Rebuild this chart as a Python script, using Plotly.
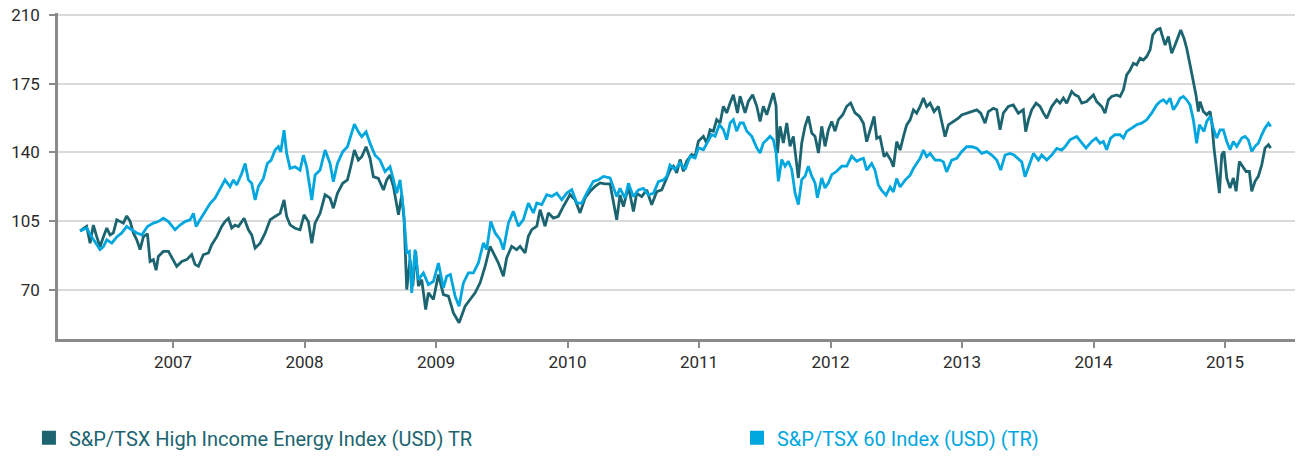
import plotly.graph_objects as go

# ---------------- data (decimal year, index value) ----------------
hie_t = [2006.293, 2006.343, 2006.369, 2006.394, 2006.420, 2006.445, 2006.470, 2006.496, 2006.521, 2006.546,
         2006.572, 2006.597, 2006.622, 2006.648, 2006.673, 2006.698, 2006.724, 2006.749, 2006.774, 2006.805,
         2006.825, 2006.850, 2006.871, 2006.888, 2006.926, 2006.965, 2007.003, 2007.028, 2007.066, 2007.104,
         2007.142, 2007.167, 2007.193, 2007.231, 2007.269, 2007.294, 2007.332, 2007.370, 2007.395, 2007.421,
         2007.446, 2007.471, 2007.497, 2007.540, 2007.573, 2007.598, 2007.624, 2007.662, 2007.700, 2007.738,
         2007.776, 2007.814, 2007.844, 2007.864, 2007.890, 2007.928, 2007.966, 2007.996, 2008.029, 2008.055,
         2008.080, 2008.118, 2008.156, 2008.194, 2008.219, 2008.250, 2008.290, 2008.326, 2008.351, 2008.379,
         2008.409, 2008.435, 2008.468, 2008.498, 2008.523, 2008.561, 2008.600, 2008.625, 2008.650, 2008.676,
         2008.714, 2008.739, 2008.757, 2008.777, 2008.802, 2008.823, 2008.845, 2008.866, 2008.891, 2008.921,
         2008.942, 2008.980, 2009.018, 2009.056, 2009.094, 2009.132, 2009.175, 2009.221, 2009.259, 2009.297,
         2009.335, 2009.373, 2009.411, 2009.436, 2009.474, 2009.512, 2009.537, 2009.575, 2009.613, 2009.639,
         2009.677, 2009.702, 2009.728, 2009.766, 2009.791, 2009.829, 2009.854, 2009.892, 2009.930, 2009.968,
         2010.019, 2010.057, 2010.095, 2010.133, 2010.171, 2010.209, 2010.247, 2010.285, 2010.323, 2010.374,
         2010.399, 2010.425, 2010.463, 2010.501, 2010.526, 2010.564, 2010.602, 2010.640, 2010.678, 2010.716,
         2010.741, 2010.779, 2010.805, 2010.830, 2010.856, 2010.881, 2010.906, 2010.944, 2010.970, 2010.995,
         2011.033, 2011.058, 2011.084, 2011.109, 2011.134, 2011.160, 2011.185, 2011.210, 2011.236, 2011.261,
         2011.292, 2011.312, 2011.350, 2011.375, 2011.408, 2011.439, 2011.464, 2011.489, 2011.515, 2011.540,
         2011.565, 2011.586, 2011.596, 2011.616, 2011.641, 2011.667, 2011.692, 2011.717, 2011.743, 2011.755,
         2011.781, 2011.806, 2011.831, 2011.857, 2011.882, 2011.908, 2011.933, 2011.958, 2011.984, 2012.009,
         2012.034, 2012.060, 2012.093, 2012.123, 2012.153, 2012.186, 2012.219, 2012.250, 2012.275, 2012.300,
         2012.331, 2012.351, 2012.376, 2012.407, 2012.427, 2012.458, 2012.478, 2012.503, 2012.529, 2012.554,
         2012.579, 2012.605, 2012.630, 2012.655, 2012.681, 2012.706, 2012.731, 2012.757, 2012.787, 2012.820,
         2012.845, 2012.871, 2012.896, 2012.934, 2012.972, 2012.997, 2013.035, 2013.074, 2013.112, 2013.142,
         2013.175, 2013.200, 2013.238, 2013.264, 2013.289, 2013.314, 2013.352, 2013.390, 2013.428, 2013.466,
         2013.484, 2013.505, 2013.530, 2013.563, 2013.593, 2013.619, 2013.644, 2013.682, 2013.720, 2013.745,
         2013.771, 2013.796, 2013.834, 2013.859, 2013.885, 2013.910, 2013.948, 2013.973, 2013.999, 2014.024,
         2014.062, 2014.087, 2014.113, 2014.138, 2014.176, 2014.202, 2014.227, 2014.252, 2014.278, 2014.303,
         2014.328, 2014.354, 2014.379, 2014.404, 2014.430, 2014.450, 2014.480, 2014.506, 2014.526, 2014.544,
         2014.569, 2014.594, 2014.620, 2014.645, 2014.663, 2014.688, 2014.708, 2014.734, 2014.759, 2014.779,
         2014.797, 2014.810, 2014.835, 2014.861, 2014.886, 2014.899, 2014.916, 2014.937, 2014.957, 2014.975,
         2014.992, 2015.013, 2015.038, 2015.063, 2015.084, 2015.109, 2015.134, 2015.160, 2015.185, 2015.203,
         2015.228, 2015.253, 2015.279, 2015.304, 2015.330, 2015.347]
hie_v = [100.0, 102.3, 93.8, 103.0, 97.0, 92.0, 97.0, 101.5, 98.0, 99.0,
         105.7, 105.0, 104.0, 107.7, 105.0, 99.0, 95.5, 90.5, 97.0, 98.6,
         84.5, 85.4, 80.0, 87.0, 89.6, 89.6, 84.5, 82.0, 84.5, 85.4,
         88.0, 83.0, 82.0, 88.0, 88.8, 93.0, 97.0, 102.3, 104.8, 106.5,
         101.5, 103.0, 102.3, 106.5, 100.6, 98.0, 91.3, 93.8, 98.9, 105.7,
         107.4, 109.0, 115.8, 107.4, 103.1, 101.4, 100.6, 108.2, 104.8, 93.8,
         104.0, 109.0, 118.4, 116.7, 111.6, 119.2, 124.3, 126.0, 132.7, 141.2,
         136.1, 137.8, 142.9, 137.0, 127.7, 126.8, 120.9, 126.0, 128.5, 122.6,
         108.2, 118.4, 105.7, 70.2, 85.4, 71.9, 89.6, 71.9, 75.2, 60.0,
         68.5, 65.1, 77.8, 67.6, 66.8, 58.3, 53.3, 61.7, 65.1, 68.5,
         73.6, 82.0, 92.2, 88.8, 83.7, 77.0, 86.3, 92.2, 90.5, 92.2,
         88.8, 97.3, 100.7, 102.4, 110.8, 102.4, 109.2, 106.6, 107.5, 112.5,
         118.5, 115.9, 109.2, 116.8, 120.2, 122.7, 124.5, 124.0, 124.0, 105.7,
         118.4, 112.4, 122.6, 109.9, 119.2, 117.5, 120.9, 113.3, 120.0, 120.9,
         125.1, 131.0, 133.0, 129.6, 136.4, 130.4, 135.5, 138.9, 138.1, 145.7,
         148.2, 144.8, 151.6, 150.8, 156.7, 155.0, 163.5, 160.1, 165.2, 169.4,
         160.1, 168.6, 160.1, 166.0, 169.4, 163.5, 155.8, 163.5, 159.2, 165.2,
         170.3, 163.5, 139.7, 153.3, 144.8, 155.0, 143.1, 148.2, 134.7, 127.0,
         144.8, 153.3, 158.4, 149.9, 148.2, 139.7, 153.3, 143.1, 151.6, 155.8,
         150.8, 156.7, 159.2, 163.5, 165.2, 160.1, 158.4, 154.9, 145.5, 151.5,
         158.3, 147.2, 148.0, 137.8, 139.5, 136.1, 132.7, 145.5, 141.2, 148.0,
         154.0, 156.6, 161.7, 160.0, 163.4, 167.7, 163.4, 165.1, 160.8, 163.4,
         156.6, 148.0, 154.0, 155.7, 157.4, 159.1, 160.0, 160.8, 161.7, 160.0,
         154.9, 160.8, 162.5, 161.7, 151.5, 160.0, 163.4, 164.2, 160.0, 161.7,
         150.6, 156.6, 161.7, 165.1, 163.4, 160.0, 157.4, 163.4, 166.8, 165.1,
         167.7, 165.1, 171.0, 169.3, 168.5, 165.1, 165.9, 167.6, 169.3, 165.9,
         163.4, 160.0, 166.8, 168.5, 169.3, 168.5, 171.9, 179.5, 182.0, 185.4,
         184.6, 188.0, 187.1, 188.8, 192.2, 199.8, 202.4, 203.2, 198.1, 194.7,
         199.0, 190.5, 194.7, 199.0, 202.4, 198.1, 193.1, 184.6, 176.1, 169.3,
         160.8, 165.9, 160.8, 159.2, 160.8, 155.8, 142.2, 128.6, 119.3, 138.8,
         140.5, 127.0, 121.9, 127.0, 120.2, 135.4, 132.9, 130.3, 130.3, 120.2,
         125.3, 127.8, 133.7, 142.2, 143.9, 142.2]

tsx_t = [2006.293, 2006.343, 2006.381, 2006.420, 2006.445, 2006.470, 2006.496, 2006.534, 2006.572, 2006.610,
         2006.648, 2006.686, 2006.724, 2006.762, 2006.805, 2006.850, 2006.888, 2006.926, 2006.965, 2007.015,
         2007.053, 2007.091, 2007.129, 2007.155, 2007.175, 2007.205, 2007.243, 2007.281, 2007.319, 2007.357,
         2007.395, 2007.433, 2007.459, 2007.484, 2007.522, 2007.548, 2007.573, 2007.598, 2007.624, 2007.649,
         2007.687, 2007.717, 2007.745, 2007.776, 2007.801, 2007.819, 2007.844, 2007.864, 2007.890, 2007.928,
         2007.966, 2007.991, 2008.016, 2008.055, 2008.080, 2008.118, 2008.156, 2008.194, 2008.219, 2008.250,
         2008.290, 2008.326, 2008.351, 2008.379, 2008.409, 2008.435, 2008.468, 2008.498, 2008.536, 2008.574,
         2008.612, 2008.650, 2008.676, 2008.701, 2008.726, 2008.752, 2008.777, 2008.797, 2008.815, 2008.840,
         2008.866, 2008.904, 2008.942, 2008.980, 2009.018, 2009.056, 2009.081, 2009.109, 2009.145, 2009.175,
         2009.208, 2009.246, 2009.284, 2009.322, 2009.360, 2009.385, 2009.416, 2009.449, 2009.487, 2009.512,
         2009.550, 2009.588, 2009.626, 2009.664, 2009.702, 2009.740, 2009.766, 2009.804, 2009.842, 2009.880,
         2009.918, 2009.956, 2009.994, 2010.032, 2010.070, 2010.108, 2010.146, 2010.196, 2010.235, 2010.273,
         2010.323, 2010.374, 2010.399, 2010.437, 2010.463, 2010.501, 2010.539, 2010.577, 2010.615, 2010.653,
         2010.691, 2010.729, 2010.754, 2010.779, 2010.817, 2010.856, 2010.894, 2010.932, 2010.970, 2010.995,
         2011.033, 2011.071, 2011.096, 2011.122, 2011.155, 2011.185, 2011.210, 2011.236, 2011.261, 2011.286,
         2011.312, 2011.337, 2011.363, 2011.401, 2011.439, 2011.464, 2011.489, 2011.515, 2011.540, 2011.565,
         2011.586, 2011.603, 2011.629, 2011.654, 2011.679, 2011.705, 2011.730, 2011.755, 2011.781, 2011.806,
         2011.831, 2011.857, 2011.882, 2011.900, 2011.933, 2011.958, 2011.984, 2012.009, 2012.047, 2012.085,
         2012.123, 2012.161, 2012.199, 2012.224, 2012.250, 2012.275, 2012.313, 2012.338, 2012.364, 2012.389,
         2012.422, 2012.453, 2012.478, 2012.503, 2012.529, 2012.567, 2012.605, 2012.630, 2012.655, 2012.681,
         2012.706, 2012.731, 2012.757, 2012.795, 2012.833, 2012.858, 2012.883, 2012.921, 2012.960, 2012.997,
         2013.035, 2013.074, 2013.112, 2013.150, 2013.188, 2013.226, 2013.264, 2013.294, 2013.327, 2013.365,
         2013.395, 2013.428, 2013.454, 2013.479, 2013.505, 2013.543, 2013.581, 2013.606, 2013.644, 2013.682,
         2013.720, 2013.758, 2013.783, 2013.821, 2013.872, 2013.910, 2013.943, 2013.986, 2014.019, 2014.049,
         2014.075, 2014.100, 2014.130, 2014.163, 2014.202, 2014.227, 2014.252, 2014.290, 2014.328, 2014.366,
         2014.404, 2014.442, 2014.480, 2014.506, 2014.531, 2014.556, 2014.582, 2014.607, 2014.633, 2014.658,
         2014.683, 2014.708, 2014.734, 2014.759, 2014.784, 2014.805, 2014.823, 2014.840, 2014.861, 2014.886,
         2014.911, 2014.937, 2014.962, 2014.987, 2015.013, 2015.038, 2015.063, 2015.089, 2015.127, 2015.152,
         2015.177, 2015.203, 2015.228, 2015.253, 2015.279, 2015.304, 2015.330, 2015.347]
tsx_v = [100.0, 101.5, 97.0, 93.0, 90.5, 92.0, 95.5, 93.8, 97.0, 99.0,
         102.3, 100.6, 99.0, 98.0, 102.3, 104.0, 104.8, 106.5, 104.8, 100.6,
         103.0, 104.8, 105.7, 109.0, 102.3, 105.7, 110.0, 114.0, 116.7, 121.0,
         126.0, 122.6, 126.0, 123.4, 129.3, 134.4, 126.0, 124.3, 115.8, 122.6,
         126.8, 134.4, 136.0, 141.2, 142.9, 140.3, 151.3, 139.5, 131.9, 132.7,
         131.0, 138.6, 132.7, 115.8, 128.5, 131.0, 141.2, 134.4, 125.1, 134.4,
         140.3, 142.9, 148.0, 154.4, 150.5, 148.0, 150.5, 144.6, 138.6, 136.1,
         130.2, 132.7, 126.0, 119.2, 126.0, 110.7, 88.8, 89.6, 68.5, 90.5,
         75.2, 78.6, 72.7, 74.4, 83.7, 71.0, 76.9, 77.8, 66.8, 61.7,
         73.6, 78.7, 78.7, 83.7, 93.9, 90.5, 104.9, 99.0, 95.6, 90.5,
         104.0, 110.0, 102.4, 105.8, 114.2, 109.2, 114.2, 113.4, 118.5, 117.6,
         119.3, 115.9, 119.3, 121.0, 114.2, 114.2, 119.3, 125.3, 126.1, 127.8,
         127.0, 117.5, 121.7, 116.7, 124.3, 117.5, 120.9, 121.7, 118.4, 119.2,
         125.1, 126.0, 127.7, 133.6, 131.3, 134.7, 131.3, 138.1, 137.2, 142.3,
         141.4, 146.5, 149.1, 148.2, 154.2, 151.6, 146.5, 155.0, 156.7, 150.8,
         155.0, 155.0, 150.8, 148.2, 142.3, 139.7, 144.8, 146.5, 148.2, 146.5,
         139.7, 125.3, 136.4, 133.0, 135.5, 131.3, 119.4, 113.4, 126.2, 127.9,
         133.0, 127.9, 124.5, 116.9, 127.0, 121.9, 124.5, 128.7, 130.4, 133.0,
         133.0, 138.1, 135.5, 136.4, 137.0, 131.0, 134.4, 131.0, 123.3, 120.7,
         118.2, 122.4, 119.9, 126.7, 122.4, 125.9, 128.4, 131.8, 134.4, 137.0,
         141.2, 137.8, 139.5, 136.1, 136.1, 135.2, 130.1, 136.1, 137.0, 140.4,
         142.9, 142.9, 142.1, 139.5, 140.4, 138.7, 136.1, 131.0, 138.7, 139.5,
         138.7, 137.0, 135.2, 127.6, 132.7, 139.5, 136.1, 138.7, 136.1, 138.7,
         142.1, 141.2, 142.9, 146.4, 148.1, 144.7, 142.2, 145.6, 147.3, 144.7,
         145.6, 141.4, 147.3, 149.0, 149.0, 147.3, 150.7, 152.4, 154.1, 154.9,
         156.6, 160.0, 164.2, 165.9, 166.8, 165.1, 167.6, 161.7, 164.2, 167.6,
         168.5, 166.8, 164.2, 156.6, 144.7, 154.1, 152.4, 150.7, 155.8, 158.3,
         152.4, 147.3, 151.5, 151.5, 145.6, 141.4, 145.6, 143.1, 147.3, 148.1,
         146.4, 140.5, 143.1, 144.7, 149.0, 152.4, 154.9, 153.2]

YEARS = [2007, 2008, 2009, 2010, 2011, 2012, 2013, 2014, 2015]
YEAR_LABELS = [str(y) for y in YEARS]
Y_TICKS = [70, 105, 140, 175, 210]

NAME_HIE = "S&P/TSX High Income Energy Index (USD) TR"
NAME_TSX = "S&P/TSX 60 Index (USD) (TR)"
C_HIE = "#1c6570"
C_TSX = "#00a6de"

fig = go.Figure()
fig.add_trace(go.Scatter(x=hie_t, y=hie_v, mode="lines", line=dict(color=C_HIE, width=2.8),
                         showlegend=False, name=NAME_HIE))
fig.add_trace(go.Scatter(x=tsx_t, y=tsx_v, mode="lines", line=dict(color=C_TSX, width=2.8),
                         showlegend=False, name=NAME_TSX))
# legend entries with square swatches, each in its own legend box
for name, col, lg in [(NAME_HIE, C_HIE, "legend"), (NAME_TSX, C_TSX, "legend2")]:
    fig.add_trace(go.Scatter(x=[None], y=[None], mode="markers",
                             marker=dict(symbol="square", size=14, color=col),
                             name=f'<span style="color:{col}">{name}</span>',
                             showlegend=True, legend=lg))

leg_common = dict(orientation="h", xanchor="left", yanchor="middle", y=-0.303,
                  font=dict(size=20), bgcolor="rgba(0,0,0,0)", itemwidth=30)

fig.update_layout(
    width=1297, height=456,
    margin=dict(l=58, r=2, t=13, b=117, autoexpand=False),
    paper_bgcolor="white", plot_bgcolor="white",
    font=dict(family="Roboto, Arial, sans-serif", size=17, color="#2b2b2b"),
    legend=dict(x=-0.0235, **leg_common),
    legend2=dict(x=0.5489, **leg_common),
    xaxis=dict(range=[2006.125, 2015.532], tickmode="array", tickvals=YEARS, ticktext=YEAR_LABELS,
               showgrid=False, zeroline=False, showline=True, linecolor="#8a8a8a", linewidth=2.5,
               ticks="outside", ticklen=6, tickwidth=2, tickcolor="#8a8a8a", automargin=False,
               ticklabeloverflow="allow", tickfont=dict(size=17, color="#2b2b2b")),
    yaxis=dict(range=[45, 211], tickmode="array", tickvals=Y_TICKS,
               showgrid=True, gridcolor="#dadada", gridwidth=1.5, zeroline=False,
               showline=True, linecolor="#8a8a8a", linewidth=2.5, automargin=False,
               ticks="outside", ticklen=6, tickwidth=2, tickcolor="#8a8a8a",
               ticklabelstandoff=6, ticklabeloverflow="allow",
               tickfont=dict(size=17, color="#2b2b2b")),
)

# remove the default 8 px page margin so the figure fills the window exactly; hide the modebar
fig.write_html("out.html", config={"displayModeBar": False},
               post_script="document.body.style.margin='0';")
